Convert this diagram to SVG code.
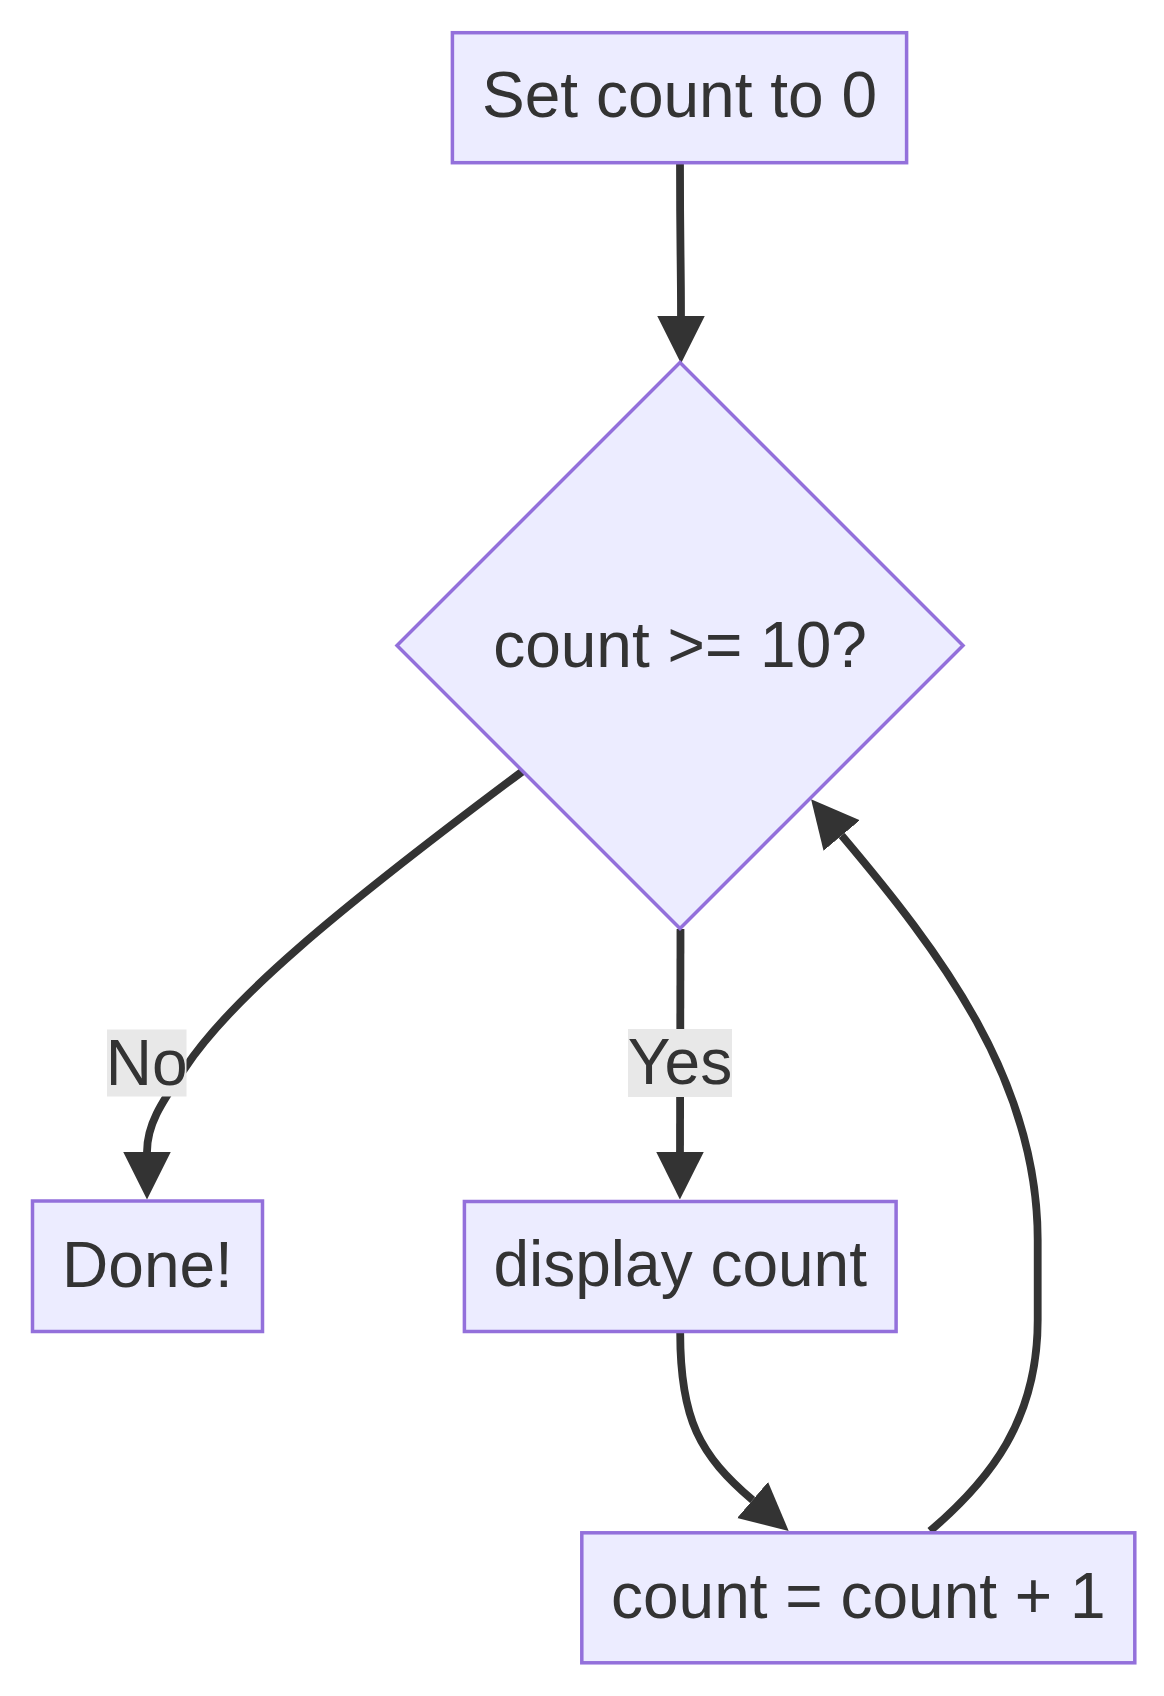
<svg xmlns="http://www.w3.org/2000/svg" width="1164" height="1696" viewBox="0 0 1164 1696">
<style>
.node{fill:#ECECFF;stroke:#9370DB;stroke-width:3.5}
.lbl{font-family:"Liberation Sans",Arial,sans-serif;font-size:64px;fill:#333333;text-anchor:middle}
.edge{fill:none;stroke:#333333;stroke-width:7.8}
.ebg{fill:#e8e8e8}
</style>
<defs>
<marker id="arrow" viewBox="0 0 10 10" refX="0" refY="5" markerUnits="userSpaceOnUse" markerWidth="47.5" markerHeight="48" orient="auto">
<path d="M0,0 L10,5 L0,10 z" fill="#333333"/>
</marker>
</defs>
<rect width="1164" height="1696" fill="#ffffff"/>
<g id="edges">
<path class="edge" d="M680,164 C680,250 681,260 681,316" marker-end="url(#arrow)"/>
<path class="edge" d="M523,771 C330,915 230,1000 185,1068 C160,1105 147,1125 147,1152" marker-end="url(#arrow)"/>
<path class="edge" d="M680.5,929 L680,1152" marker-end="url(#arrow)"/>
<path class="edge" d="M680.2,1333 C680.2,1420 700,1455 752.6,1500" marker-end="url(#arrow)"/>
<path class="edge" d="M930,1531 C990,1480 1037.7,1420 1037.7,1320 L1037.7,1240 C1037.7,1080 940,952 841.7,835.5" marker-end="url(#arrow)"/>
<g id="label-no">
<rect class="ebg" x="107" y="1029.5" width="79.5" height="67"/>
<text class="lbl" x="146.7" y="1085">No</text>
</g>
<g id="label-yes">
<rect class="ebg" x="628" y="1029" width="104" height="68"/>
<text class="lbl" x="680" y="1084">Yes</text>
</g>
</g>
<g id="node-start">
<rect class="node" x="452.4" y="32.7" width="454.2" height="130"/>
<text class="lbl" x="679.5" y="117">Set count to 0</text>
</g>
<g id="node-decision">
<polygon class="node" points="680,362.5 963,645.5 680,928.5 397,645.5"/>
<text class="lbl" x="680" y="667">count &gt;= 10?</text>
</g>
<g id="node-done">
<rect class="node" x="32.5" y="1201" width="230" height="130.5"/>
<text class="lbl" x="147.5" y="1287">Done!</text>
</g>
<g id="node-display">
<rect class="node" x="464.4" y="1201.5" width="431.7" height="130"/>
<text class="lbl" x="680.2" y="1286">display count</text>
</g>
<g id="node-increment">
<rect class="node" x="581.8" y="1532.8" width="553" height="130"/>
<text class="lbl" x="858.3" y="1618">count = count + 1</text>
</g>
</svg>
